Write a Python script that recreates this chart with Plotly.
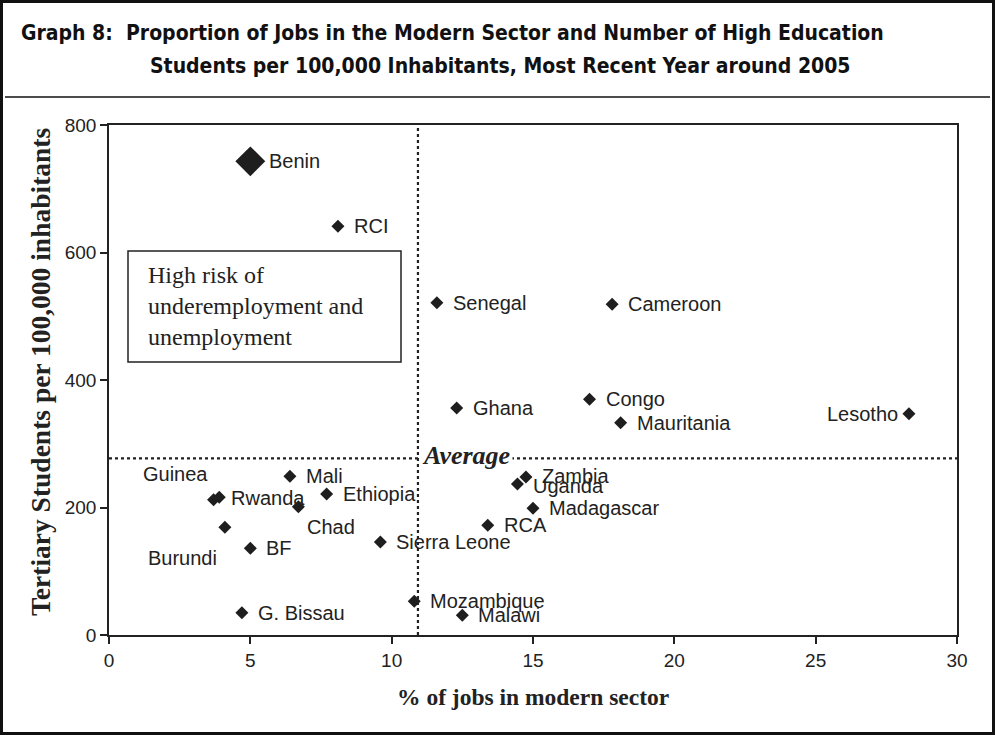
import plotly.graph_objects as go

# ---------------- data ----------------
countries = ["Benin", "RCI", "Senegal", "Cameroon", "Congo", "Mauritania", "Lesotho",
             "Ghana", "Mali", "Ethiopia", "Guinea", "Rwanda", "Chad", "Burundi", "BF",
             "G. Bissau", "Sierra Leone", "Mozambique", "Malawi", "RCA", "Madagascar",
             "Zambia", "Uganda"]
modern_jobs_pct = [5.0, 8.1, 11.6, 17.8, 17.0, 18.1, 28.3,
                   12.3, 6.4, 7.7, 3.7, 3.9, 6.7, 4.1, 5.0,
                   4.7, 9.6, 10.8, 12.5, 13.4, 15.0,
                   14.75, 14.45]
students_per_100k = [743, 641, 521, 519, 370, 333, 347,
                     356, 249, 221, 212, 216, 201, 169, 136,
                     35, 146, 53, 31, 172, 199,
                     248, 237]
avg_jobs = 10.93
avg_students = 277

x_ticks = [0, 5, 10, 15, 20, 25, 30]
y_ticks = [0, 200, 400, 600, 800]

title_line1 = "Graph 8:  Proportion of Jobs in the Modern Sector and Number of High Education"
title_line2 = "Students per 100,000 Inhabitants, Most Recent Year around 2005"
x_title = "% of jobs in modern sector"
y_title = "Tertiary Students per 100,000 inhabitants"
box_text = "High risk of<br>underemployment and<br>unemployment"

# ---------------- styles ----------------
W, H = 995, 735
L, R, T, B = 109, 957, 125, 635
MARK = "#1e1e1e"
SANS = "Liberation Sans, Arial, sans-serif"
SERIF = "Liberation Serif, Times New Roman, serif"
TITLE_FONT = "DejaVu Sans Condensed, Liberation Sans Narrow, Liberation Sans, sans-serif"

marker_sizes = [23 if c == "Benin" else 10 for c in countries]

# label placement: (xanchor, xshift, yshift)
label_style = {
    "Lesotho": ("right", -9, 0),
    "Guinea": ("right", -4, 26),
    "Rwanda": ("left", 10, -1),
    "Chad": ("left", 7, -20),
    "Burundi": ("right", -6, -31),
    "Benin": ("left", 17, 0),
    "Zambia": ("left", 14, 1),
    "Uganda": ("left", 14, -2),
}


def px(xp):
    return (xp - L) / (R - L)


def py(yp):
    return (B - yp) / (B - T)


fig = go.Figure()
fig.add_trace(go.Scatter(
    x=modern_jobs_pct, y=students_per_100k, mode="markers",
    marker=dict(symbol="diamond", size=marker_sizes, color=MARK, opacity=1,
                line=dict(width=0)),
    hovertext=countries, showlegend=False, cliponaxis=False,
))

annotations = []
for c, xv, yv in zip(countries, modern_jobs_pct, students_per_100k):
    xa, xs, ys = label_style.get(c, ("left", 14, 0))
    annotations.append(dict(x=xv, y=yv, xref="x", yref="y", text=c, showarrow=False,
                            xanchor=xa, yanchor="middle", xshift=xs, yshift=ys,
                            font=dict(family=SANS, size=20, color="#222")))

# Average label
annotations.append(dict(x=avg_jobs, y=avg_students, xref="x", yref="y",
                        text="<b><i>Average</i></b>", showarrow=False,
                        xanchor="left", yanchor="middle", xshift=1, yshift=3,
                        bgcolor="white", borderpad=2,
                        font=dict(family=SERIF, size=26, color="#222")))

# box text
annotations.append(dict(x=px(146), y=py(306), xref="paper", yref="paper",
                        text=box_text, showarrow=False, align="left",
                        xanchor="left", yanchor="middle",
                        font=dict(family=SERIF, size=24, color="#222")))

# titles
annotations.append(dict(x=px(19), y=py(33), xref="paper", yref="paper",
                        text="<b>" + title_line1 + "</b>", showarrow=False,
                        xanchor="left", yanchor="middle",
                        font=dict(family=TITLE_FONT, size=21, color="#111")))
annotations.append(dict(x=px(148), y=py(66), xref="paper", yref="paper",
                        text="<b>" + title_line2 + "</b>", showarrow=False,
                        xanchor="left", yanchor="middle",
                        font=dict(family=TITLE_FONT, size=21, color="#111")))
annotations.append(dict(x=0.5, y=py(697), xref="paper", yref="paper",
                        text="<b>" + x_title + "</b>", showarrow=False,
                        xanchor="center", yanchor="middle",
                        font=dict(family=SERIF, size=23.5, color="#222")))
annotations.append(dict(x=px(40), y=py(372), xref="paper", yref="paper",
                        text="<b>" + y_title + "</b>", showarrow=False, textangle=-90,
                        xanchor="center", yanchor="middle",
                        font=dict(family=SERIF, size=27.5, color="#222")))

shapes = [
    # average lines
    dict(type="line", xref="x", yref="y", x0=avg_jobs, x1=avg_jobs, y0=0, y1=800,
         line=dict(color="#222", width=2.2, dash="dot")),
    dict(type="line", xref="x", yref="y", x0=0, x1=30, y0=avg_students, y1=avg_students,
         line=dict(color="#222", width=2.2, dash="dot")),
    # risk box
    dict(type="rect", xref="paper", yref="paper", x0=px(128), x1=px(401), y0=py(362), y1=py(251),
         line=dict(color="#222", width=1.5), fillcolor="white", layer="below"),
    # rule under title
    dict(type="line", xref="paper", yref="paper", x0=px(5), x1=px(990), y0=py(97), y1=py(97),
         line=dict(color="#111", width=1.5)),
    # outer frame
    dict(type="rect", xref="paper", yref="paper", x0=px(1.5), x1=px(993.5), y0=py(733.5), y1=py(1.5),
         line=dict(color="#111", width=3)),
]

fig.update_layout(
    width=W, height=H,
    margin=dict(l=L, r=W - R, t=T, b=H - B, pad=0),
    paper_bgcolor="white", plot_bgcolor="white",
    annotations=annotations, shapes=shapes,
    xaxis=dict(range=[0, 30], tickvals=x_ticks, showgrid=False, zeroline=False,
               showline=True, linecolor="#222", linewidth=1.5, mirror=True,
               ticks="outside", ticklen=7, tickwidth=1.5, tickcolor="#222",
               tickfont=dict(family=SANS, size=19, color="#222"), fixedrange=True),
    yaxis=dict(range=[0, 800], tickvals=y_ticks, showgrid=False, zeroline=False,
               showline=True, linecolor="#222", linewidth=1.5, mirror=True,
               ticks="outside", ticklen=7, tickwidth=1.5, tickcolor="#222",
               tickfont=dict(family=SANS, size=19, color="#222"), fixedrange=True),
    font=dict(family=SANS, color="#222"),
)

fig.write_html("out.html", config={"displayModeBar": False},
               post_script="document.body.style.margin='0';document.body.style.overflow='hidden';")
